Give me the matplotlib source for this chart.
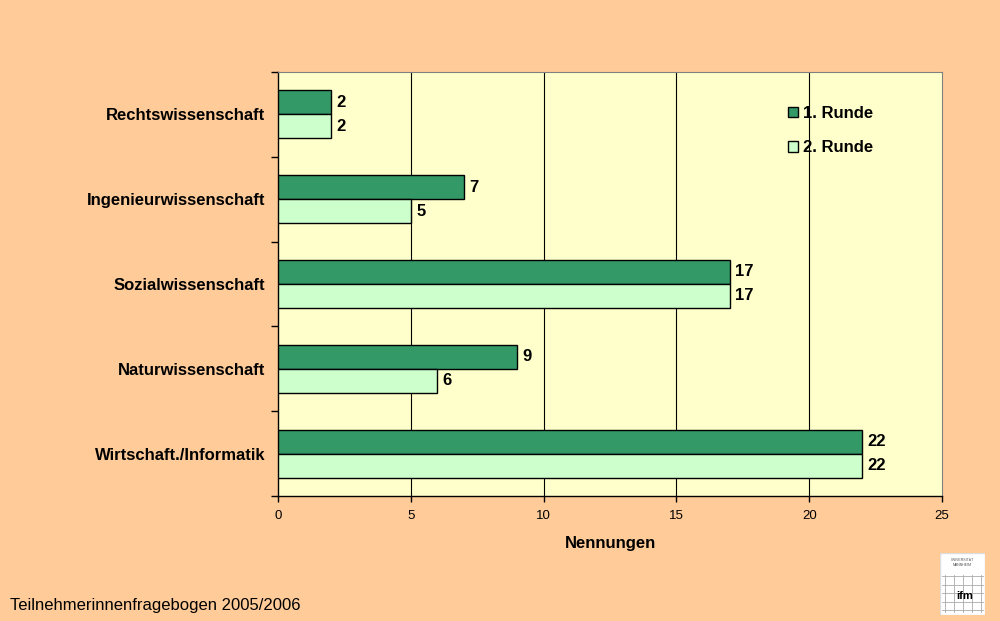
import matplotlib
matplotlib.use("Agg")
import matplotlib.pyplot as plt
from matplotlib.patches import Rectangle
import numpy as np

categories = ["Rechtswissenschaft", "Ingenieurwissenschaft", "Sozialwissenschaft",
              "Naturwissenschaft", "Wirtschaft./Informatik"]
runde1 = [2, 7, 17, 9, 22]
runde2 = [2, 5, 17, 6, 22]
series_names = ["1. Runde", "2. Runde"]
xticks = [0, 5, 10, 15, 20, 25]

plt.rcParams['font.family'] = ['Liberation Sans', 'DejaVu Sans']

fig = plt.figure(figsize=(10, 6.21), dpi=100)
fig.patch.set_facecolor('#FFCC99')
ax = fig.add_axes([0.278, 0.2013, 0.664, 0.6828])
ax.set_facecolor('#FFFFCC')

n = len(categories)
centers = np.arange(n)[::-1] + 0.5  # top category at top
bh = 0.283
c1, c2 = '#339966', '#CCFFCC'
b1 = ax.barh(centers + bh / 2, runde1, height=bh, color=c1, edgecolor='black', linewidth=1, zorder=3, label=series_names[0])
b2 = ax.barh(centers - bh / 2, runde2, height=bh, color=c2, edgecolor='black', linewidth=1, zorder=3, label=series_names[1])
for bars, vals in ((b1, runde1), (b2, runde2)):
    for r, v in zip(bars, vals):
        ax.text(v + 0.2, r.get_y() + r.get_height() / 2, str(v), va='center', ha='left',
                fontsize=12, fontweight='bold', zorder=4)

ax.set_xlim(0, 25)
ax.set_ylim(0, n)
ax.set_xticks(xticks)
ax.set_xticklabels([str(t) for t in xticks], fontsize=9.5)
ax.set_yticks(centers)
ax.set_yticklabels(categories, fontsize=12, fontweight='bold')
ax.tick_params(axis='y', which='major', length=0, pad=9)
ax.set_yticks(np.arange(n + 1), minor=True)
ax.tick_params(axis='y', which='minor', length=5, direction='out', width=1)
ax.tick_params(axis='x', length=4, direction='out', width=1, pad=6)
for x in xticks[1:-1]:
    ax.axvline(x, color='black', linewidth=0.8, zorder=1)
for side in ['top', 'right']:
    ax.spines[side].set_color('#808080')
    ax.spines[side].set_linewidth(0.8)
for side in ['left', 'bottom']:
    ax.spines[side].set_linewidth(1)
ax.set_xlabel("Nennungen", fontsize=12, fontweight='bold', labelpad=10)

leg = ax.legend(loc='upper left', bbox_to_anchor=(0.745, 0.955), frameon=False,
                prop={'size': 12, 'weight': 'bold'}, handlelength=0.6, handleheight=0.6,
                handletextpad=0.3, labelspacing=1.15)

fig.text(0.01, 0.013, "Teilnehmerinnenfragebogen 2005/2006", fontsize=12, ha='left', va='bottom')

# simple logo placeholder
lax = fig.add_axes([0.940, 0.01, 0.045, 0.099])
lax.set_xlim(0, 1); lax.set_ylim(0, 1)
lax.axis('off')
lax.add_patch(Rectangle((0, 0), 1, 1, facecolor='white', edgecolor='#DDDDDD'))
for g in np.linspace(0.1, 0.9, 5):
    lax.plot([g, g], [0.05, 0.65], color='#AAAAAA', lw=0.6)
    lax.plot([0.05, 0.95], [g * 0.7, g * 0.7], color='#AAAAAA', lw=0.6)
lax.text(0.5, 0.85, "UNIVERSITÄT\nMANNHEIM", fontsize=2.5, ha='center', va='center', color='#555555')
lax.text(0.55, 0.3, "ifm", fontsize=8, fontweight='bold', ha='center', va='center', color='black')

fig.savefig("out.png", dpi=100, facecolor=fig.get_facecolor())
